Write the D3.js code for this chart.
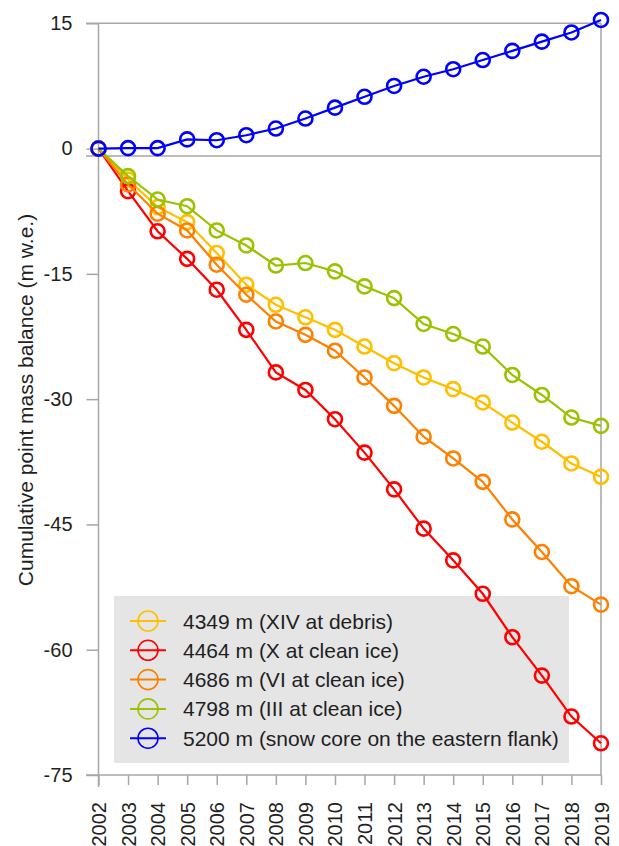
<!DOCTYPE html>
<html>
<head>
<meta charset="utf-8">
<script src="https://cdn.jsdelivr.net/npm/d3@7"></script>
<style>
  html, body { margin: 0; padding: 0; background: #fff; }
  svg { display: block; font-family: "Liberation Sans", Arial, sans-serif; }
</style>
</head>
<body>
<svg id="chart" width="619" height="846"></svg>
<script>
// ---- data ----
const years = [2002,2003,2004,2005,2006,2007,2008,2009,2010,2011,2012,2013,2014,2015,2016,2017,2018,2019];
const yTicks = [15, 0, -15, -30, -45, -60, -75];
const seriesNames = [
  "4349 m (XIV at debris)",
  "4464 m (X at clean ice)",
  "4686 m (VI at clean ice)",
  "4798 m (III at clean ice)",
  "5200 m (snow core on the eastern flank)"
];
const colors = ["#ffbf00", "#ff0000", "#ff8000", "#99c300", "#0000ff"];
const s4349 = [0, -3.7, -7.0, -8.8, -12.5, -16.3, -18.7, -20.2, -21.7, -23.7, -25.7, -27.4, -28.8, -30.4, -32.8, -35.1, -37.7, -39.3];
const s4464 = [0, -5.1, -9.9, -13.2, -16.9, -21.7, -26.8, -28.9, -32.4, -36.4, -40.8, -45.5, -49.3, -53.3, -58.5, -63.1, -68.0, -71.2];
const s4686 = [0, -4.3, -7.8, -9.8, -13.9, -17.5, -20.7, -22.3, -24.2, -27.4, -30.8, -34.5, -37.1, -39.9, -44.4, -48.3, -52.4, -54.6];
const s4798 = [0, -3.3, -6.1, -6.9, -9.8, -11.6, -14.0, -13.7, -14.7, -16.5, -17.9, -21.0, -22.2, -23.7, -27.1, -29.5, -32.2, -33.2];
const s5200 = [0, 0.05, 0.05, 1.1, 1.0, 1.6, 2.4, 3.6, 4.9, 6.2, 7.5, 8.6, 9.5, 10.6, 11.7, 12.8, 13.9, 15.4];
const baseLineValue = -0.9; // grey horizontal reference line drawn just under zero
const allSeries = [s4349, s4464, s4686, s4798, s5200];

// ---- layout ----
const svg = d3.select("#chart");
const x = d3.scaleLinear().domain([2002, 2019]).range([98.5, 601]);
const y = d3.scaleLinear().domain([-75, 15]).range([775, 23.3]);
const axisColor = "#a6a6a6";
const textColor = "#1f1f1f";

// frame: top and right lines + reference line
svg.append("line").attr("x1", 86).attr("x2", x(2019)).attr("y1", y(15)).attr("y2", y(15))
  .attr("stroke", axisColor).attr("stroke-width", 1.5);
svg.append("line").attr("x1", x(2019)).attr("x2", x(2019)).attr("y1", y(15)).attr("y2", y(-75))
  .attr("stroke", axisColor).attr("stroke-width", 1.5);
svg.append("line").attr("x1", 86).attr("x2", x(2019)).attr("y1", y(baseLineValue)).attr("y2", y(baseLineValue))
  .attr("stroke", axisColor).attr("stroke-width", 1.5);

// y axis
const yAxis = svg.append("g").attr("transform", `translate(${x(2002)},0)`)
  .call(d3.axisLeft(y).tickValues(yTicks).tickSize(12).tickPadding(14).tickFormat(d => String(d)));
yAxis.select(".domain").attr("stroke", axisColor).attr("stroke-width", 1.5)
  .attr("d", `M0,${y(15)}V${y(-75) + 12}`);
yAxis.selectAll(".tick line").attr("stroke", axisColor).attr("stroke-width", 1.5);
yAxis.selectAll(".tick text").attr("fill", textColor).style("font-size", "20px")
  .style("font-family", "Liberation Sans, Arial, sans-serif");

// x axis
const xAxis = svg.append("g").attr("transform", `translate(0,${y(-75)})`)
  .call(d3.axisBottom(x).tickValues(years).tickSize(10).tickFormat(d => String(d)));
xAxis.select(".domain").attr("stroke", axisColor).attr("stroke-width", 1.5)
  .attr("d", `M86,0H${x(2019)}`);
xAxis.selectAll(".tick line").attr("stroke", axisColor).attr("stroke-width", 1.5);
xAxis.selectAll(".tick text")
  .attr("fill", textColor).style("font-size", "20px")
  .style("font-family", "Liberation Sans, Arial, sans-serif")
  .attr("text-anchor", "end")
  .attr("y", 0).attr("x", 0).attr("dy", null)
  .attr("transform", "translate(0,27) rotate(-90)")
  .attr("dominant-baseline", "central");

// y title
svg.append("text")
  .attr("transform", `translate(33,${400}) rotate(-90)`)
  .attr("text-anchor", "middle")
  .attr("fill", textColor)
  .style("font-size", "21px")
  .text("Cumulative point mass balance (m w.e.)");

// legend background
const legend = svg.append("g");
legend.append("rect").attr("x", 114).attr("y", 596).attr("width", 455).attr("height", 167)
  .attr("fill", "#e5e5e5");

// series
const line = d3.line().x((d, i) => x(years[i])).y(d => y(d));
allSeries.forEach((s, k) => {
  const g = svg.append("g");
  g.append("path").datum(s).attr("d", line).attr("fill", "none")
    .attr("stroke", colors[k]).attr("stroke-width", 2.2);
  g.selectAll("circle").data(s).join("circle")
    .attr("cx", (d, i) => x(years[i])).attr("cy", d => y(d)).attr("r", 7)
    .attr("fill", "none").attr("stroke", colors[k]).attr("stroke-width", 2.6);
});

// legend entries
seriesNames.forEach((name, k) => {
  const cy = 621 + k * 29.3;
  const item = legend.append("g");
  item.append("line").attr("x1", 130).attr("x2", 166).attr("y1", cy).attr("y2", cy)
    .attr("stroke", colors[k]).attr("stroke-width", 2);
  item.append("circle").attr("cx", 148).attr("cy", cy).attr("r", 10)
    .attr("fill", "none").attr("stroke", colors[k]).attr("stroke-width", 1.6);
  item.append("text").attr("x", 183).attr("y", cy).attr("dy", "0.36em")
    .attr("fill", textColor).style("font-size", "21px").text(name);
});
</script>
</body>
</html>
